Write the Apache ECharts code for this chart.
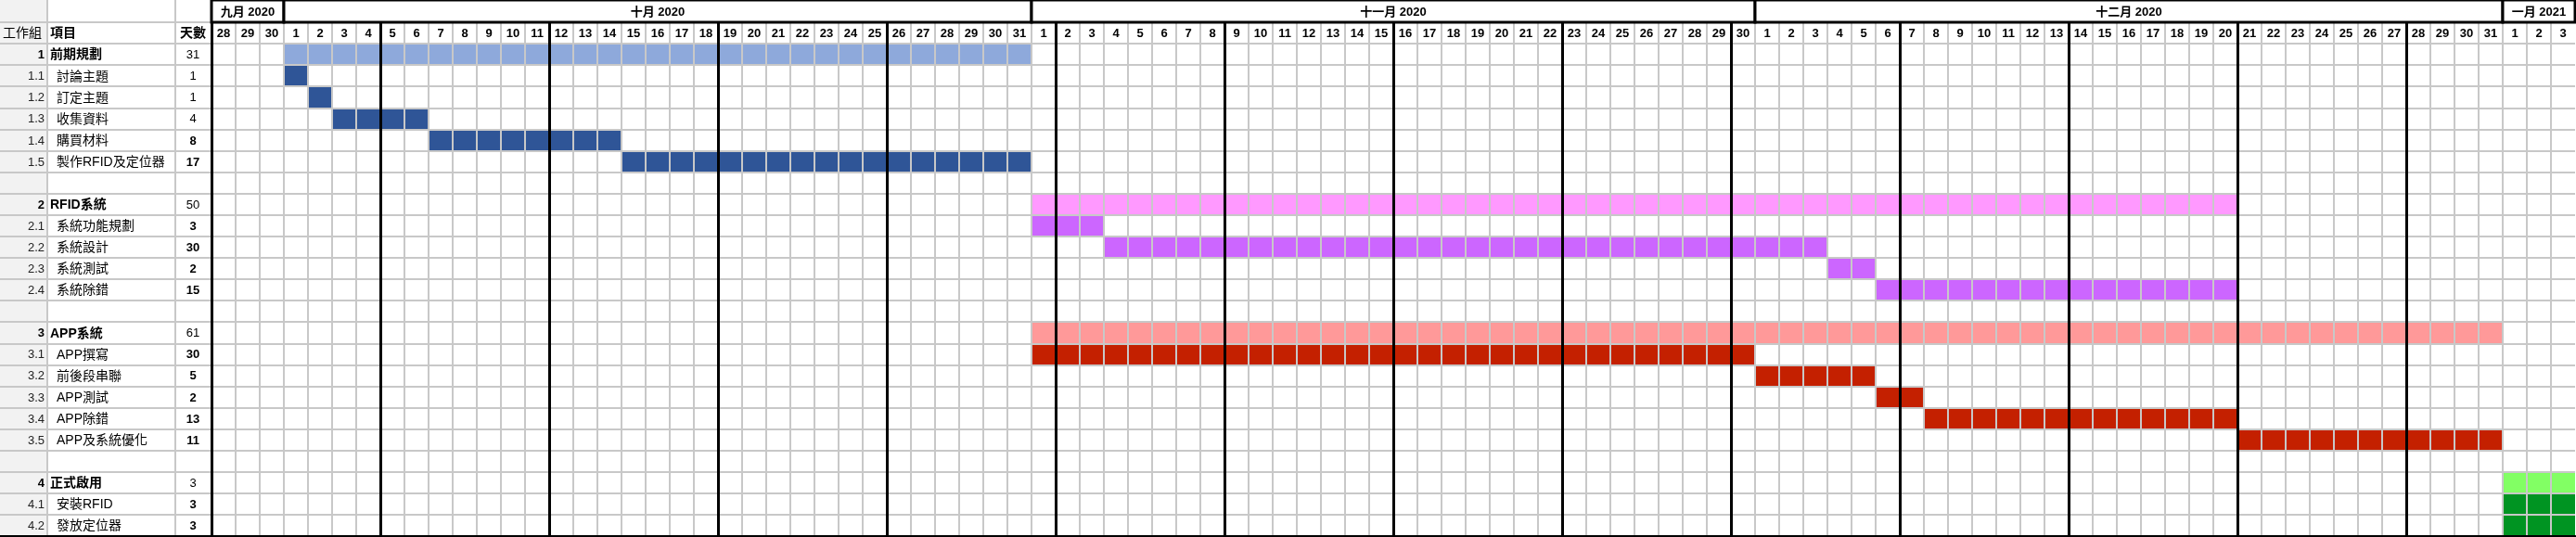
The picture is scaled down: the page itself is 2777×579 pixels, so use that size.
<!DOCTYPE html>
<html><head><meta charset="utf-8">
<script src="https://cdn.jsdelivr.net/npm/echarts@6/dist/echarts.min.js"></script>
<style>html,body{margin:0;padding:0;background:#fff}#c{width:2777px;height:579px}</style>
</head><body><div id="c"></div>
<script>
// ---- data ----
const CAL_START = '2020-09-28';
const CAL_END = '2021-01-03';
const MONTH_LABELS = ['九月 2020', '十月 2020', '十一月 2020', '十二月 2020', '一月 2021'];
const HEADERS = ['工作組', '項目', '天數'];
const WBS = ['1', '1.1', '1.2', '1.3', '1.4', '1.5', '',
  '2', '2.1', '2.2', '2.3', '2.4', '',
  '3', '3.1', '3.2', '3.3', '3.4', '3.5', '',
  '4', '4.1', '4.2'];
const TASKS = ['前期規劃', '討論主題', '訂定主題', '收集資料', '購買材料', '製作RFID及定位器', '',
  'RFID系統', '系統功能規劃', '系統設計', '系統測試', '系統除錯', '',
  'APP系統', 'APP撰寫', '前後段串聯', 'APP測試', 'APP除錯', 'APP及系統優化', '',
  '正式啟用', '安裝RFID', '發放定位器'];
const DAYS = [31, 1, 1, 4, 8, 17, null,
  50, 3, 30, 2, 15, null,
  61, 30, 5, 2, 13, 11, null,
  3, 3, 3];
const START = ['2020-10-01', '2020-10-01', '2020-10-02', '2020-10-03', '2020-10-07', '2020-10-15', null,
  '2020-11-01', '2020-11-01', '2020-11-04', '2020-12-04', '2020-12-06', null,
  '2020-11-01', '2020-11-01', '2020-12-01', '2020-12-06', '2020-12-08', '2020-12-21', null,
  '2021-01-01', '2021-01-01', '2021-01-01'];

// ---- styles ----
const GROUP_COLORS = {
  '1': ['#8EA9DB', '#2F5597'],
  '2': ['#FF99FF', '#CC66FF'],
  '3': ['#FF9999', '#C42000'],
  '4': ['#82FF64', '#009422']
};
const DAYS_BOLD = new Set(['1.4', '1.5', '2.1', '2.2', '2.3', '2.4', '3.1', '3.2', '3.3', '3.4', '3.5', '4.1', '4.2']);
const GRAY = '#c8c8c8';
const LAT = "'Liberation Sans', Arial, sans-serif";
const CJK = "'Liberation Sans', 'Noto Sans CJK TC', sans-serif";
const COL = [0, 51, 189, 228];

// ---- derived calendar ----
const DAY_MS = 86400000;
const t0 = Date.parse(CAL_START);
const N = Math.round((Date.parse(CAL_END) - t0) / DAY_MS) + 1;
const dayNums = [];
const monthSpans = [];
for (let i = 0; i < N; i++) {
  const d = new Date(t0 + i * DAY_MS);
  dayNums.push(d.getUTCDate());
  const m = d.getUTCMonth();
  if (!monthSpans.length || monthSpans[monthSpans.length - 1].m !== m) monthSpans.push({ m: m, s: i, e: i + 1 });
  else monthSpans[monthSpans.length - 1].e = i + 1;
}
const idx = s => Math.round((Date.parse(s) - t0) / DAY_MS);
const ROWS = ['hdr'].concat(WBS.map((w, i) => 'r' + i));

const barData = [];
WBS.forEach((w, i) => {
  if (!START[i]) return;
  const s = idx(START[i]);
  const g = w.split('.')[0];
  const isGroup = w.indexOf('.') < 0;
  barData.push([s, s + DAYS[i], i + 1, GROUP_COLORS[g][isGroup ? 0 : 1]]);
});

const chart = echarts.init(document.getElementById('c'), null, { renderer: 'canvas' });
const option = {
  animation: false,
  backgroundColor: '#fff',
  grid: [
    { left: 228, top: 24, width: 2548, height: 554 },
    { left: 228, top: 0, width: 2548, height: 24 },
    { left: 0, top: 24, width: 228, height: 554 }
  ],
  xAxis: [
    { gridIndex: 0, type: 'value', min: 0, max: N, interval: 1, position: 'top', z: 10,
      axisLine: { show: false }, axisTick: { show: false }, axisLabel: { show: false },
      splitLine: { show: true, showMaxLine: false, lineStyle: { color: GRAY, width: 2 } } },
    { gridIndex: 0, type: 'value', min: 0, max: N, interval: 7, position: 'bottom', z: 11,
      axisLine: { show: true, onZero: false, lineStyle: { color: '#000', width: 3 } },
      axisTick: { show: false }, axisLabel: { show: false },
      splitLine: { show: true, showMaxLine: false, lineStyle: { color: '#000', width: 3 } } },
    { gridIndex: 1, type: 'value', min: 0, max: N, show: false },
    { gridIndex: 2, type: 'value', min: 0, max: 228, position: 'bottom', z: 11,
      axisLine: { show: true, onZero: false, lineStyle: { color: '#000', width: 3 } },
      axisTick: { show: false }, axisLabel: { show: false }, splitLine: { show: false } }
  ],
  yAxis: [
    { gridIndex: 0, type: 'category', data: ROWS, inverse: true, z: 10,
      axisLine: { show: false }, axisTick: { show: false }, axisLabel: { show: false },
      splitLine: { show: true, interval: 0, lineStyle: { color: GRAY, width: 2 } } },
    { gridIndex: 1, type: 'value', min: 0, max: 1, show: false },
    { gridIndex: 2, type: 'category', data: ROWS, inverse: true, z: 10,
      axisLine: { show: false }, axisTick: { show: false }, axisLabel: { show: false },
      splitLine: { show: true, interval: 0, lineStyle: { color: GRAY, width: 2 } } }
  ],
  series: [
    // task bars
    { type: 'custom', xAxisIndex: 0, yAxisIndex: 0, z: 2,
      data: barData, encode: { x: [0, 1], y: 2 },
      renderItem: (p, api) => {
        const d = barData[p.dataIndex];
        const a = api.coord([d[0], d[2]]);
        const b = api.coord([d[1], d[2]]);
        const h = api.size([0, 1])[1];
        return { type: 'rect', shape: { x: a[0], y: a[1] - h / 2, width: b[0] - a[0], height: h }, style: { fill: d[3] } };
      } },
    // day labels
    { type: 'custom', xAxisIndex: 0, yAxisIndex: 0, z: 15,
      data: dayNums.map((d, i) => [i + 0.5, 0, d]), encode: { x: 0, y: 1 },
      renderItem: (p, api) => {
        const c = api.coord([api.value(0), 0]);
        return { type: 'text', x: c[0], y: c[1] + 1,
          style: { text: String(api.value(2)), fill: '#000', font: 'bold 13px ' + LAT, align: 'center', verticalAlign: 'middle' } };
      } },
    // month header
    { type: 'custom', xAxisIndex: 2, yAxisIndex: 1, z: 20,
      data: monthSpans.map((m, k) => [m.s, m.e, k]), encode: { x: [0, 1] },
      renderItem: (p, api) => {
        const a = api.coord([api.value(0), 1]);
        const b = api.coord([api.value(1), 0]);
        return { type: 'group', children: [
          { type: 'rect', shape: { x: a[0], y: a[1], width: b[0] - a[0], height: b[1] - a[1] },
            style: { fill: '#fff', stroke: '#000', lineWidth: 3 } },
          { type: 'text', x: (a[0] + b[0]) / 2, y: (a[1] + b[1]) / 2 + 1,
            style: { text: MONTH_LABELS[api.value(2)], fill: '#000', font: 'bold 13px ' + CJK, align: 'center', verticalAlign: 'middle' } }
        ] };
      } },
    // left table
    { type: 'custom', xAxisIndex: 3, yAxisIndex: 2, z: 2,
      data: ROWS.map((r, k) => [0, k]), encode: { x: 0, y: 1 },
      renderItem: (p, api) => {
        const r = api.value(1);
        const c = api.coord([0, r]);
        const h = api.size([0, 1])[1];
        const top = r === 0 ? 0 : c[1] - h / 2;
        const bot = c[1] + h / 2;
        const cy = c[1] + 1;
        const X = x => api.coord([x, r])[0];
        const ch = [];
        ch.push({ type: 'rect', shape: { x: X(COL[0]), y: top, width: X(COL[1]) - X(COL[0]), height: bot - top }, style: { fill: '#f2f2f2' } });
        ch.push({ type: 'line', shape: { x1: X(COL[1]), y1: top, x2: X(COL[1]), y2: bot }, style: { stroke: GRAY, lineWidth: 2 } });
        ch.push({ type: 'line', shape: { x1: X(COL[2]), y1: top, x2: X(COL[2]), y2: bot }, style: { stroke: GRAY, lineWidth: 2 } });
        if (r === 0) {
          ch.push({ type: 'text', x: X(3), y: cy, style: { text: HEADERS[0], fill: '#000', font: '14px ' + CJK, align: 'left', verticalAlign: 'middle' } });
          ch.push({ type: 'text', x: X(54), y: cy, style: { text: HEADERS[1], fill: '#000', font: 'bold 14px ' + CJK, align: 'left', verticalAlign: 'middle' } });
          ch.push({ type: 'text', x: X(208), y: cy, style: { text: HEADERS[2], fill: '#000', font: 'bold 14px ' + CJK, align: 'center', verticalAlign: 'middle' } });
        } else {
          const i = r - 1;
          const w = WBS[i];
          if (w) {
            const isGroup = w.indexOf('.') < 0;
            ch.push({ type: 'text', x: X(48), y: cy, style: { text: w, fill: isGroup ? '#000' : '#222', font: (isGroup ? 'bold ' : '') + '13px ' + LAT, align: 'right', verticalAlign: 'middle' } });
            ch.push({ type: 'text', x: X(isGroup ? 54 : 61), y: cy, style: { text: TASKS[i], fill: '#000', font: (isGroup ? 'bold ' : '') + '14px ' + CJK, align: 'left', verticalAlign: 'middle' } });
            ch.push({ type: 'text', x: X(208), y: cy, style: { text: String(DAYS[i]), fill: '#000', font: (DAYS_BOLD.has(w) ? 'bold ' : '') + '13px ' + LAT, align: 'center', verticalAlign: 'middle' } });
          }
        }
        return { type: 'group', children: ch };
      } }
  ]
};
chart.setOption(option);
</script>
</body></html>
